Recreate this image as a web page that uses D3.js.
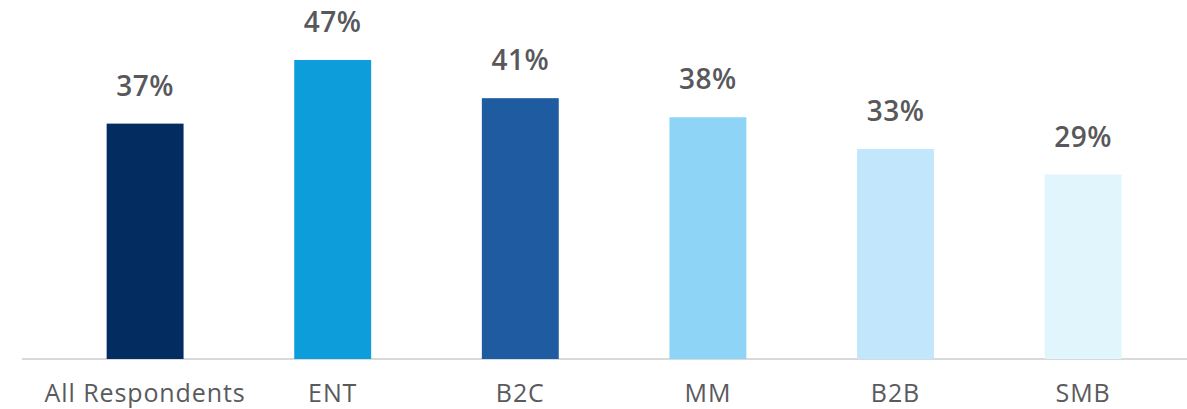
<!DOCTYPE html>
<html>
<head>
<meta charset="utf-8">
<script src="https://cdn.jsdelivr.net/npm/d3@7"></script>
<style>
  html, body { margin: 0; padding: 0; background: #ffffff; }
  svg { display: block; }
</style>
</head>
<body>
<svg id="chart" width="1187" height="409"></svg>
<script>
const categories = ["All Respondents", "ENT", "B2C", "MM", "B2B", "SMB"];
const values = [37, 47, 41, 38, 33, 29];
const barColors = ["#032d60", "#0d9dda", "#1f5ba0", "#8ed4f7", "#c2e6fc", "#e1f5fc"];
const valueLabels = values.map(v => v + "%");

const svg = d3.select("#chart");

const x = d3.scaleBand()
  .domain(categories)
  .range([51.3, 1176.9])
  .paddingInner(0.59)
  .paddingOuter(0.295);

const y = d3.scaleLinear()
  .domain([0, 47])
  .range([359, 60]);

// baseline
svg.append("line")
  .attr("x1", 22).attr("x2", 1187)
  .attr("y1", y(0)).attr("y2", y(0))
  .attr("stroke", "#d9d9d9")
  .attr("stroke-width", 2);

// bars
svg.selectAll("rect.bar")
  .data(values)
  .join("rect")
  .attr("class", "bar")
  .attr("x", (d, i) => x(categories[i]))
  .attr("y", d => y(d))
  .attr("width", x.bandwidth())
  .attr("height", d => y(0) - y(d))
  .attr("fill", (d, i) => barColors[i]);

// value labels
svg.selectAll("text.val")
  .data(values)
  .join("text")
  .attr("class", "val")
  .attr("x", (d, i) => x(categories[i]) + x.bandwidth() / 2)
  .attr("y", d => y(d) - 28)
  .attr("text-anchor", "middle")
  .attr("font-family", "'Open Sans', sans-serif")
  .attr("font-weight", 600)
  .attr("font-size", 28)
  .attr("letter-spacing", 0.5)
  .attr("fill", "#58585c")
  .text((d, i) => valueLabels[i]);

// category axis labels
const xAxis = d3.axisBottom(x).tickSize(0).tickPadding(0);
const g = svg.append("g")
  .attr("transform", `translate(0, ${y(0)})`)
  .call(xAxis);
g.select(".domain").remove();
g.selectAll("text")
  .attr("dy", null)
  .attr("y", 43)
  .attr("font-family", "'Open Sans', sans-serif")
  .attr("font-size", 25)
  .attr("letter-spacing", 0.9)
  .attr("fill", "#5a5a5e");
</script>
</body>
</html>
